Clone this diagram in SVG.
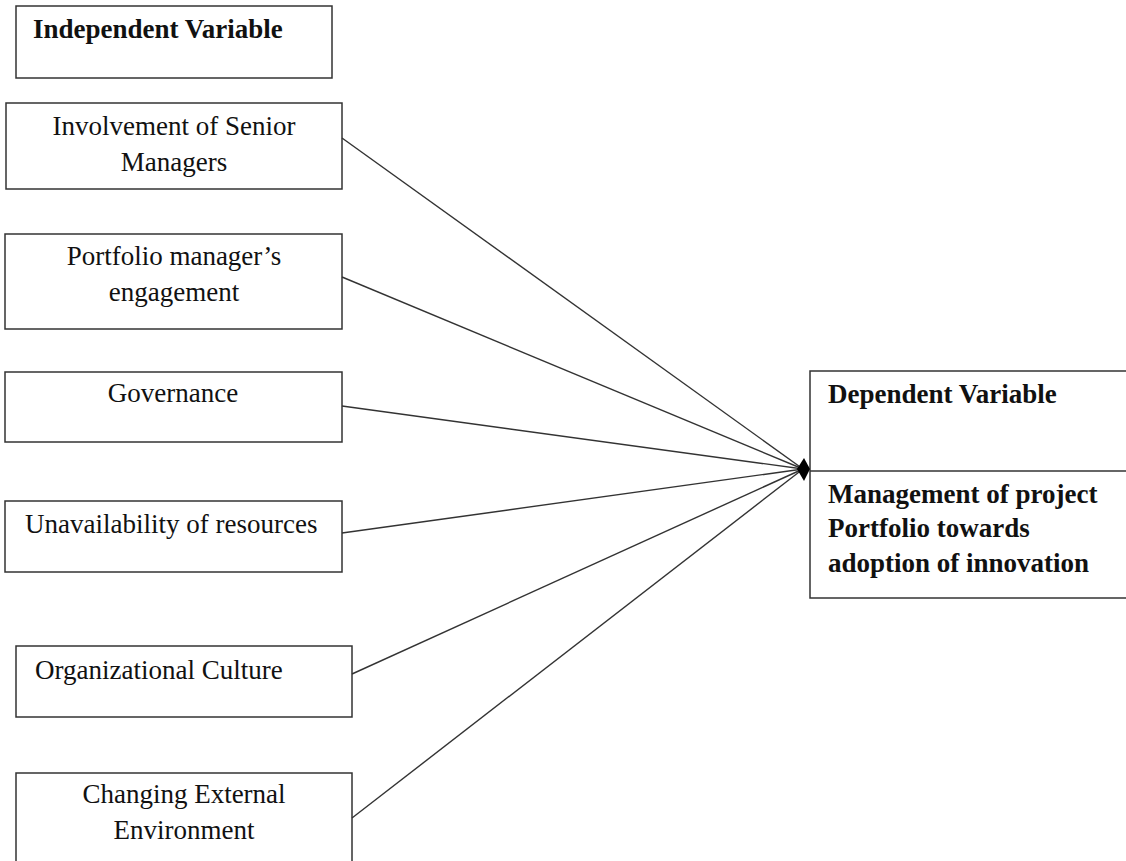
<svg xmlns="http://www.w3.org/2000/svg" width="1126" height="861" viewBox="0 0 1126 861">
<style>
.box{fill:#fff;stroke:#333;stroke-width:1.5}
.t{font-family:"Liberation Serif","Times New Roman",serif;font-size:27px;fill:#111}
.b{font-family:"Liberation Serif","Times New Roman",serif;font-size:27px;font-weight:bold;fill:#111}
.c{text-anchor:middle}
.ln{stroke:#333;stroke-width:1.4;fill:none}
</style>
<rect width="1126" height="861" fill="#fff"/>
<g id="iv-header">
<rect class="box" x="16" y="6" width="316" height="72"/>
<text class="b" x="33" y="38">Independent Variable</text>
</g>
<g id="n1">
<rect class="box" x="6" y="103" width="336" height="86"/>
<text class="t c" x="174" y="135">Involvement of Senior</text>
<text class="t c" x="174" y="171">Managers</text>
</g>
<g id="n2">
<rect class="box" x="5" y="234" width="337" height="95"/>
<text class="t c" x="174" y="265">Portfolio manager’s</text>
<text class="t c" x="174" y="301">engagement</text>
</g>
<g id="n3">
<rect class="box" x="5" y="372" width="337" height="70"/>
<text class="t c" x="173" y="402">Governance</text>
</g>
<g id="n4">
<rect class="box" x="5" y="501" width="337" height="71"/>
<text class="t" x="25" y="533">Unavailability of resources</text>
</g>
<g id="n5">
<rect class="box" x="16" y="646" width="336" height="71"/>
<text class="t" x="35" y="679">Organizational Culture</text>
</g>
<g id="n6">
<rect class="box" x="16" y="773" width="336" height="100"/>
<text class="t c" x="184" y="803">Changing External</text>
<text class="t c" x="184" y="839">Environment</text>
</g>
<g id="dv">
<rect class="box" x="810" y="371" width="330" height="227"/>
<line class="ln" x1="810" y1="471" x2="1126" y2="471" style="stroke-width:1.5"/>
<text class="b" x="828" y="403">Dependent Variable</text>
<text class="b" x="828" y="503">Management of project</text>
<text class="b" x="828" y="537">Portfolio towards</text>
<text class="b" x="828" y="572">adoption of innovation</text>
</g>
<g id="connectors">
<line class="ln" x1="342" y1="138" x2="803" y2="469"/>
<line class="ln" x1="342" y1="277" x2="803" y2="469"/>
<line class="ln" x1="342" y1="406" x2="803" y2="469"/>
<line class="ln" x1="342" y1="533" x2="803" y2="469"/>
<line class="ln" x1="352" y1="674" x2="803" y2="469"/>
<line class="ln" x1="352" y1="818" x2="803" y2="469"/>
<polygon points="804,458 810,469 804,481 797,469" fill="#000"/>
</g>
</svg>
